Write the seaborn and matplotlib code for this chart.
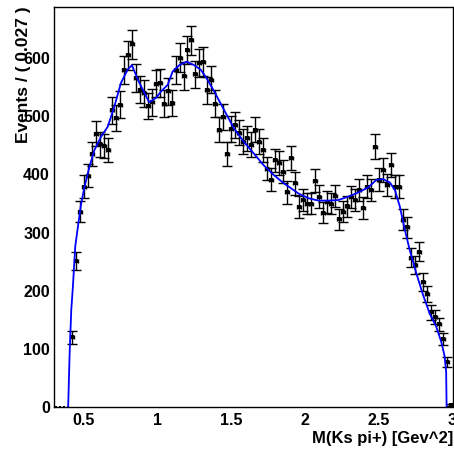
import numpy as np
import pandas as pd
import matplotlib
matplotlib.use("Agg")
import matplotlib.pyplot as plt
import seaborn as sns
from matplotlib.ticker import MultipleLocator

# ---- data -------------------------------------------------------------
bin_width = 0.027
x_lo, x_hi = 0.3, 3.0
counts = [0, 0, 0, 0, 120, 251, 336, 379, 398, 435,
          470, 452, 449, 442, 510, 497, 520, 580, 605, 624,
          566, 546, 540, 518, 524, 556, 557, 522, 543, 523,
          580, 601, 569, 614, 631, 572, 592, 594, 545, 563,
          522, 477, 499, 435, 478, 485, 472, 456, 462, 451,
          477, 456, 442, 410, 391, 424, 419, 405, 369, 429,
          385, 344, 356, 350, 350, 389, 362, 334, 353, 350,
          363, 323, 336, 345, 361, 356, 373, 342, 379, 373,
          448, 391, 408, 382, 416, 379, 379, 322, 309, 257,
          244, 267, 215, 195, 163, 155, 142, 117, 77, 3]

fit_x = [0.396, 0.406, 0.417, 0.428, 0.444, 0.462, 0.484, 0.507, 0.54, 0.574,
         0.619, 0.664, 0.709, 0.753, 0.798, 0.828, 0.868, 0.913, 0.945, 0.992,
         1.026, 1.07, 1.104, 1.149, 1.198, 1.25, 1.295, 1.34, 1.385, 1.452,
         1.52, 1.587, 1.654, 1.72, 1.789, 1.856, 1.89, 1.958, 2.025, 2.092,
         2.16, 2.227, 2.295, 2.362, 2.43, 2.486, 2.53, 2.576, 2.61, 2.643,
         2.677, 2.71, 2.755, 2.8, 2.845, 2.89, 2.924, 2.947, 2.957, 2.96]
fit_y = [0, 93, 167, 207, 276, 310, 350, 379, 413, 442,
         465, 482, 517, 557, 580, 588, 563, 540, 524, 532,
         543, 554, 577, 588, 594, 588, 580, 563, 543, 511,
         479, 456, 436, 416, 399, 385, 379, 367, 359, 355,
         355, 356, 362, 369, 378, 391, 392, 386, 373, 345,
         305, 270, 230, 193, 161, 138, 112, 87, 61, 0]

x_ticks = [0.5, 1.0, 1.5, 2.0, 2.5, 3.0]
x_tick_labels = ["0.5", "1", "1.5", "2", "2.5", "3"]
y_ticks = [0, 100, 200, 300, 400, 500, 600]
y_tick_labels = ["0", "100", "200", "300", "400", "500", "600"]
x_title = "M(Ks pi+) [Gev^2]"
y_title = "Events / ( 0.027 )"

# ---- derived table ----------------------------------------------------
n_bins = len(counts)
centers = x_lo + bin_width * (np.arange(n_bins) + 0.5)
hist = pd.DataFrame({"x": centers, "n": counts})
hist["err"] = np.sqrt(hist["n"])
filled = hist[hist["n"] > 0]
empty = hist[hist["n"] == 0]
fit = pd.DataFrame({"x": fit_x, "y": fit_y})

# ---- plot -------------------------------------------------------------
sns.set_style("white")
plt.rcParams["font.family"] = ["Liberation Sans", "DejaVu Sans"]

W, H = 454, 451
fig = plt.figure(figsize=(W / 100, H / 100), dpi=100)
ax = fig.add_axes([54 / W, 1 - 407 / H, (452.5 - 54) / W, (407 - 7) / H])

# error bars (vertical, with caps)
ax.errorbar(filled["x"], filled["n"], yerr=filled["err"], fmt="none",
            ecolor="black", elinewidth=1.0, capsize=3.6, capthick=1.0, zorder=3)
# horizontal bin-width bars
ax.errorbar(filled["x"], filled["n"], xerr=bin_width / 2, fmt="none",
            ecolor="black", elinewidth=1.0, capsize=1.6, capthick=1.0, zorder=3)
sns.scatterplot(data=filled, x="x", y="n", marker="s", s=9, color="black",
                edgecolor="black", linewidth=0, ax=ax, zorder=4, legend=False)
sns.scatterplot(data=empty, x="x", y="n", marker="s", s=3, color="black",
                edgecolor="black", linewidth=0, ax=ax, zorder=4, legend=False,
                clip_on=False)

sns.lineplot(data=fit, x="x", y="y", color="#0000ff", linewidth=1.3,
             ax=ax, zorder=5, sort=False, estimator=None)

ax.set_xlim(x_lo, x_hi)
ax.set_ylim(0, 688)
ax.set_xlabel("")
ax.set_ylabel("")

ax.set_xticks(x_ticks)
ax.set_xticklabels(x_tick_labels)
ax.set_yticks(y_ticks)
ax.set_yticklabels(y_tick_labels)
ax.xaxis.set_minor_locator(MultipleLocator(0.1))
ax.yaxis.set_minor_locator(MultipleLocator(20))

ax.tick_params(axis="both", which="major", direction="in", length=9.2,
               width=1.0, color="black", labelsize=11.5, labelcolor="black")
ax.tick_params(axis="both", which="minor", direction="in", length=4.8,
               width=1.0, color="black")
ax.tick_params(axis="x", which="major", pad=4)
ax.tick_params(axis="y", which="major", pad=3)
ax.tick_params(top=False, right=False, which="both")
for lab in ax.get_xticklabels() + ax.get_yticklabels():
    lab.set_fontweight("bold")

for sp in ax.spines.values():
    sp.set_visible(True)
    sp.set_color("black")
    sp.set_linewidth(1.0)

fig.text(24 / W, 1 - 6 / H, y_title, rotation=90, ha="center", va="top",
         fontsize=12.5, fontweight="bold", color="black")
fig.text(453 / W, 1 - 438 / H, x_title, ha="right", va="center",
         fontsize=12, fontweight="bold", color="black")

fig.savefig("out.png", dpi=100, facecolor="white")
